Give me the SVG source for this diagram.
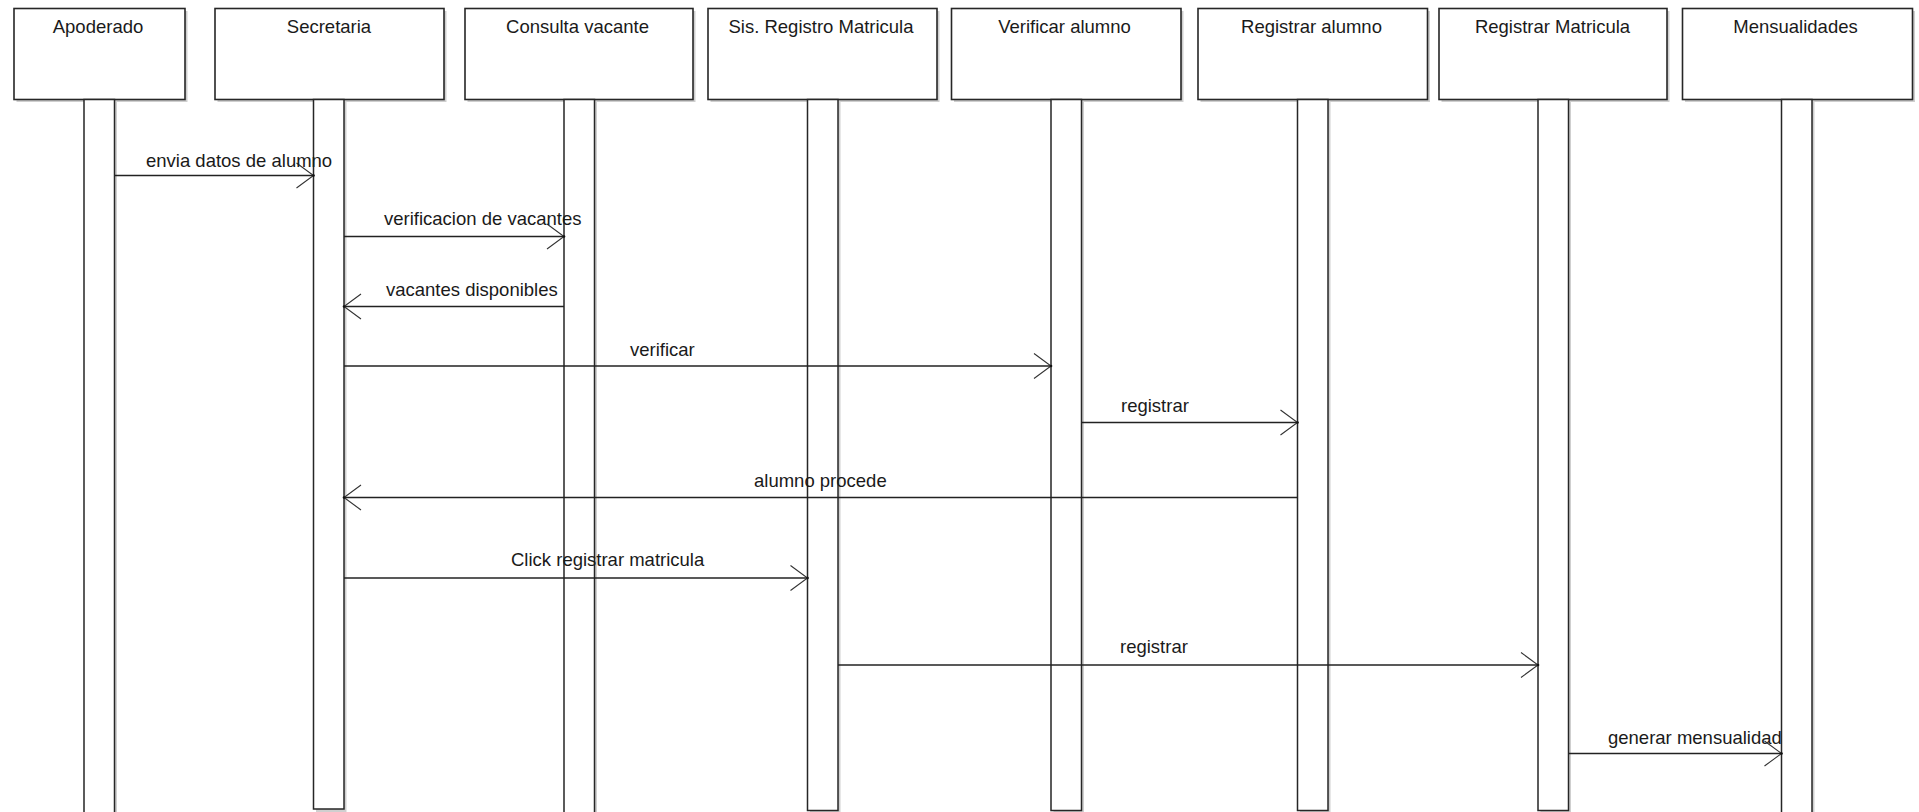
<svg xmlns="http://www.w3.org/2000/svg" width="1919" height="812" viewBox="0 0 1919 812">
  <style>
    .shadow { fill: #cfcfcf; stroke: none; }
    .head { fill: #ffffff; stroke: #262626; stroke-width: 1.6; }
    .bar { fill: #ffffff; stroke: #262626; stroke-width: 1.5; }
    .title { font-family: "Liberation Sans", Arial, sans-serif; font-size: 18.5px; fill: #1a1a1a; text-anchor: middle; }
    .msg { stroke: #222222; stroke-width: 1.5; fill: none; marker-end: url(#open-arrow); }
    .msg-label { font-family: "Liberation Sans", Arial, sans-serif; font-size: 18.5px; fill: #1a1a1a; }
  </style>
  <defs>
    <marker id="open-arrow" viewBox="-19 -14 21 28" refX="0" refY="0" markerWidth="21" markerHeight="28" markerUnits="userSpaceOnUse" orient="auto">
      <path d="M-17,-12.5 L0,0 L-17,12.5" fill="none" stroke="#333333" stroke-width="1.1"/>
      <circle cx="0" cy="0" r="1.3" fill="#111111"/>
    </marker>
  </defs>

  <rect x="0" y="0" width="1919" height="812" fill="#ffffff"/>

  <!-- lifelines: head box, title and activation bar -->
  <g id="apoderado">
    <rect class="shadow" x="16.5" y="11" width="171" height="91"/>
    <rect class="head" x="14" y="8.5" width="171" height="91"/>
    <text class="title" x="98" y="32.5">Apoderado</text>
    <rect class="shadow" x="86.5" y="101" width="30.5" height="740"/>
    <rect class="bar" x="84" y="99.5" width="30.5" height="740"/>
  </g>

  <g id="secretaria">
    <rect class="shadow" x="217.5" y="11" width="229" height="91"/>
    <rect class="head" x="215" y="8.5" width="229" height="91"/>
    <text class="title" x="329" y="32.5">Secretaria</text>
    <rect class="shadow" x="316" y="101" width="30.5" height="711"/>
    <rect class="bar" x="313.5" y="99.5" width="30.5" height="709.5"/>
  </g>

  <g id="consulta-vacante">
    <rect class="shadow" x="467.5" y="11" width="228" height="91"/>
    <rect class="head" x="465" y="8.5" width="228" height="91"/>
    <text class="title" x="577.5" y="32.5">Consulta vacante</text>
    <rect class="shadow" x="566.5" y="101" width="30.5" height="740"/>
    <rect class="bar" x="564" y="99.5" width="30.5" height="740"/>
  </g>

  <g id="sis-registro-matricula">
    <rect class="shadow" x="710.5" y="11" width="229" height="91"/>
    <rect class="head" x="708" y="8.5" width="229" height="91"/>
    <text class="title" x="821" y="32.5">Sis. Registro Matricula</text>
    <rect class="shadow" x="810" y="101" width="30.5" height="712"/>
    <rect class="bar" x="807.5" y="99.5" width="30.5" height="711"/>
  </g>

  <g id="verificar-alumno">
    <rect class="shadow" x="954" y="11" width="229.5" height="91"/>
    <rect class="head" x="951.5" y="8.5" width="229.5" height="91"/>
    <text class="title" x="1064.5" y="32.5">Verificar alumno</text>
    <rect class="shadow" x="1053.5" y="101" width="30.5" height="712"/>
    <rect class="bar" x="1051" y="99.5" width="30.5" height="711"/>
  </g>

  <g id="registrar-alumno">
    <rect class="shadow" x="1200.5" y="11" width="229.5" height="91"/>
    <rect class="head" x="1198" y="8.5" width="229.5" height="91"/>
    <text class="title" x="1311.5" y="32.5">Registrar alumno</text>
    <rect class="shadow" x="1300" y="101" width="30.5" height="712"/>
    <rect class="bar" x="1297.5" y="99.5" width="30.5" height="711"/>
  </g>

  <g id="registrar-matricula">
    <rect class="shadow" x="1441.5" y="11" width="228" height="91"/>
    <rect class="head" x="1439" y="8.5" width="228" height="91"/>
    <text class="title" x="1552.5" y="32.5">Registrar Matricula</text>
    <rect class="shadow" x="1540.5" y="101" width="30.5" height="712"/>
    <rect class="bar" x="1538" y="99.5" width="30.5" height="711"/>
  </g>

  <g id="mensualidades">
    <rect class="shadow" x="1685" y="11" width="230" height="91"/>
    <rect class="head" x="1682.5" y="8.5" width="230" height="91"/>
    <text class="title" x="1795.5" y="32.5">Mensualidades</text>
    <rect class="shadow" x="1784" y="101" width="30.5" height="740"/>
    <rect class="bar" x="1781.5" y="99.5" width="30.5" height="740"/>
  </g>

  <!-- messages -->
  <g id="connectors">
    <g id="m1">
      <line class="msg" x1="114.5" y1="175.5" x2="313.5" y2="175.5"/>
      <text class="msg-label" x="146" y="167">envia datos de alumno</text>
    </g>
    <g id="m2">
      <line class="msg" x1="344" y1="236.5" x2="564" y2="236.5"/>
      <text class="msg-label" x="384" y="225">verificacion de vacantes</text>
    </g>
    <g id="m3">
      <line class="msg" x1="564" y1="306.5" x2="344" y2="306.5"/>
      <text class="msg-label" x="386" y="296">vacantes disponibles</text>
    </g>
    <g id="m4">
      <line class="msg" x1="344" y1="366" x2="1051" y2="366"/>
      <text class="msg-label" x="630" y="356">verificar</text>
    </g>
    <g id="m5">
      <line class="msg" x1="1081.5" y1="422.5" x2="1297.5" y2="422.5"/>
      <text class="msg-label" x="1121" y="412">registrar</text>
    </g>
    <g id="m6">
      <line class="msg" x1="1297.5" y1="497.5" x2="344" y2="497.5"/>
      <text class="msg-label" x="754" y="487">alumno procede</text>
    </g>
    <g id="m7">
      <line class="msg" x1="344" y1="578" x2="807.5" y2="578"/>
      <text class="msg-label" x="511" y="566">Click registrar matricula</text>
    </g>
    <g id="m8">
      <line class="msg" x1="838" y1="665" x2="1538" y2="665"/>
      <text class="msg-label" x="1120" y="653">registrar</text>
    </g>
    <g id="m9">
      <line class="msg" x1="1568.5" y1="753.5" x2="1781.5" y2="753.5"/>
      <text class="msg-label" x="1608" y="744">generar mensualidad</text>
    </g>
  </g>
</svg>
